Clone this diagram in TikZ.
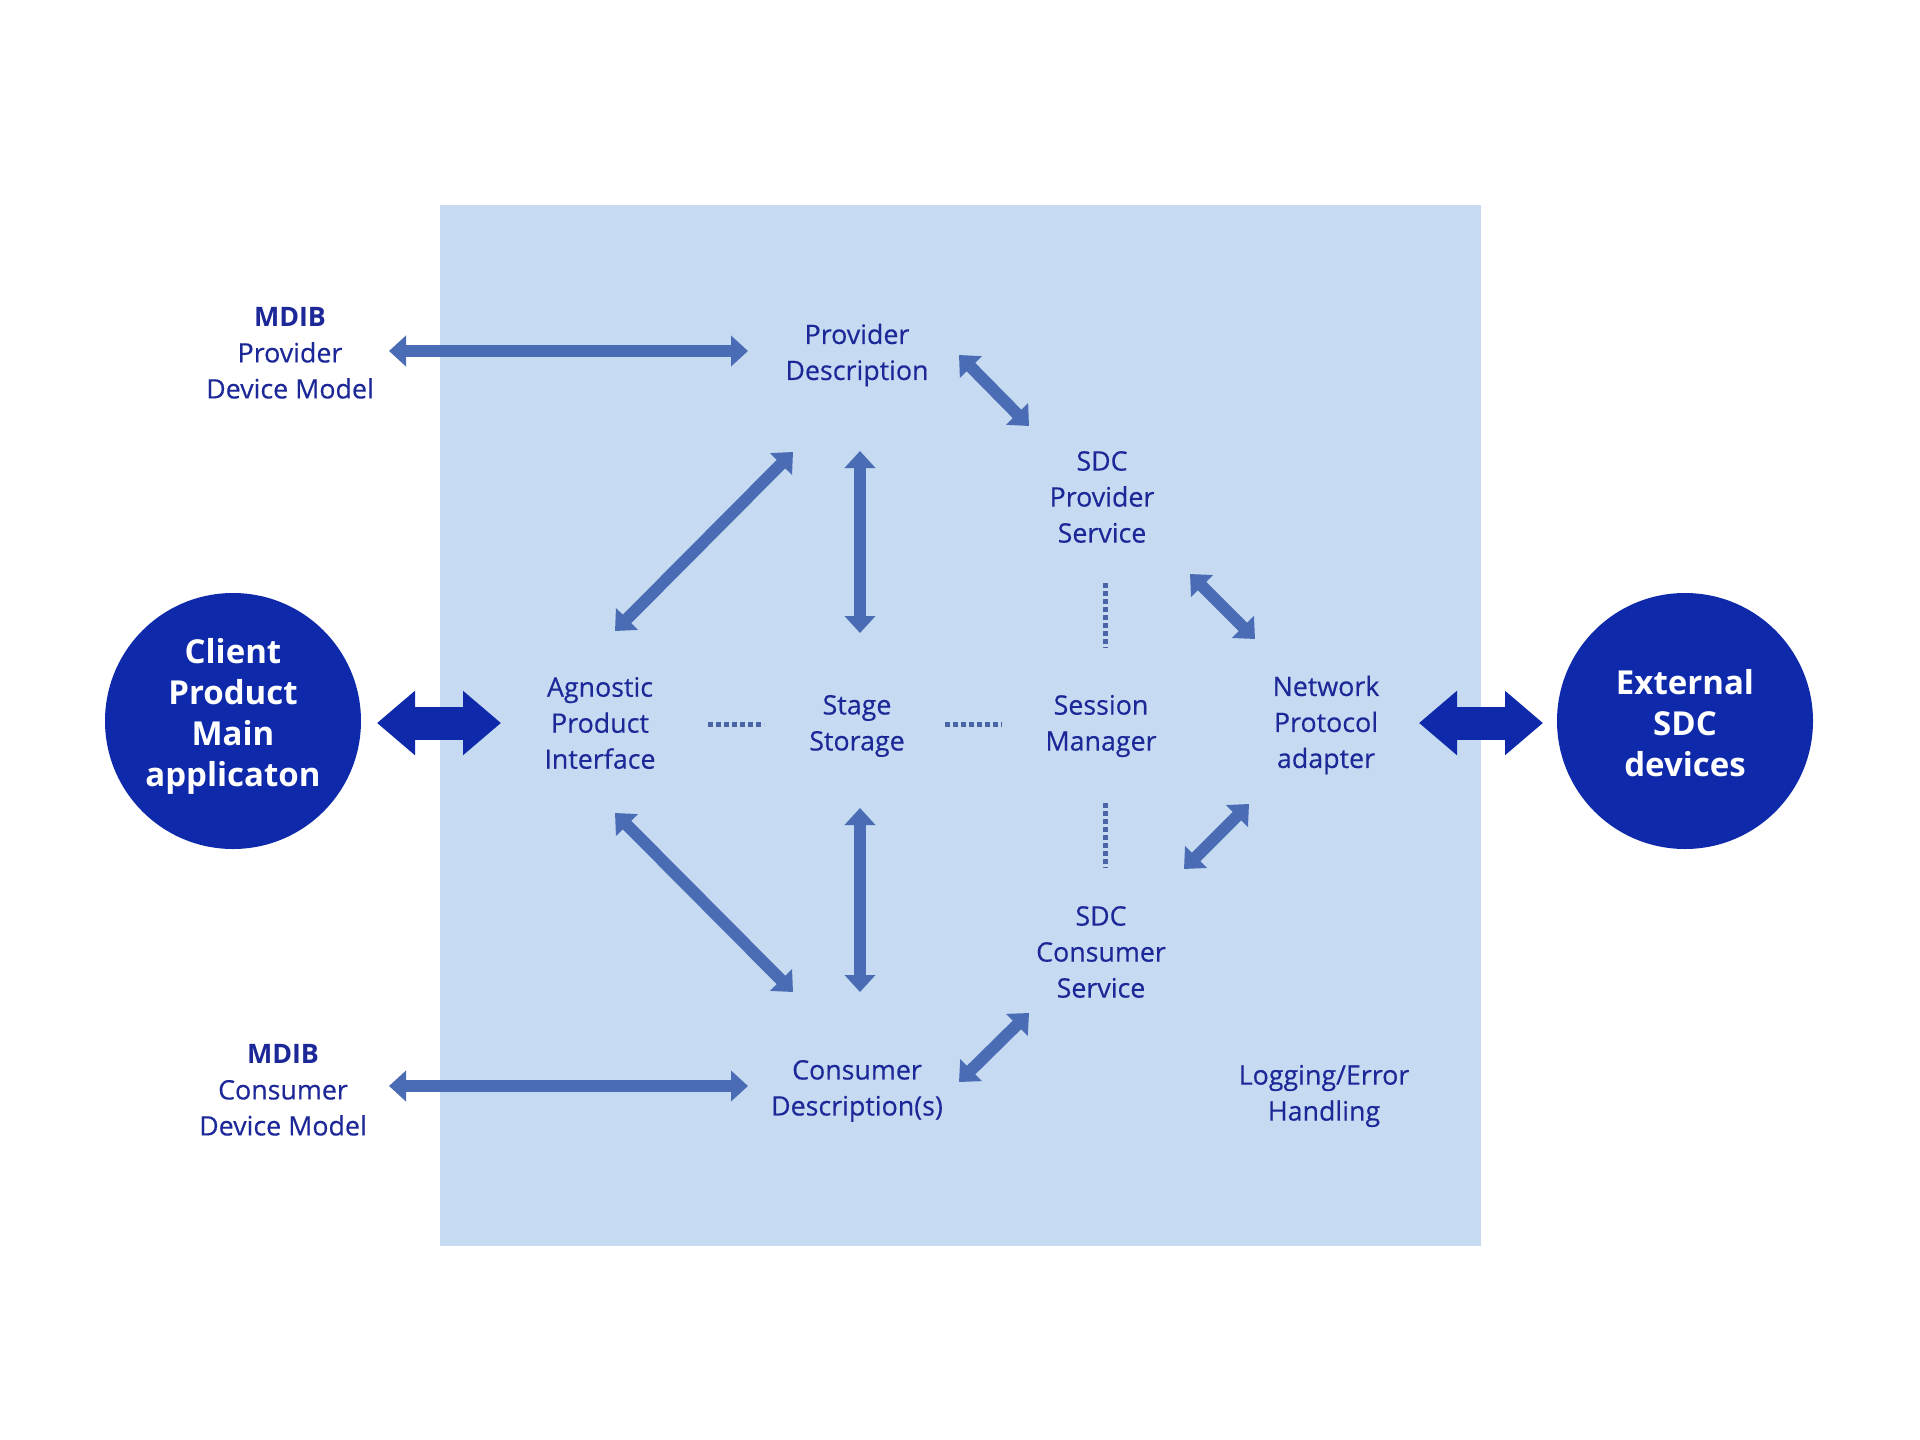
\documentclass[tikz,border=0pt]{standalone}
\usepackage{fontspec}
\setmainfont{Open Sans}
\newfontfamily\lblfont[FakeBold=0.35]{Open Sans}
\newfontfamily\lblbold{Open Sans Bold}
\usetikzlibrary{arrows.meta}
\definecolor{bgc}{RGB}{198,218,241}
\definecolor{txtc}{RGB}{28,40,152}
\definecolor{arrc}{RGB}{74,108,180}
\definecolor{dotc}{RGB}{74,100,168}
\definecolor{circc}{RGB}{14,42,170}
\tikzset{
  lbl/.style={text=txtc, align=center, inner sep=0pt, font=\lblfont\fontsize{26.8}{36}\selectfont},
  circ/.style={circle, fill=circc, minimum size=256pt, inner sep=0pt},
  circtxt/.style={text=white, align=center, inner sep=0pt, font=\fontsize{33}{41}\selectfont\bfseries},
  fatarrow/.style={draw=arrc, line width=12pt, {Triangle[width=30pt,length=17pt]}-{Triangle[width=30pt,length=17pt]}},
  bigarrow/.style={draw=circc, line width=33pt, {Triangle[width=62pt,length=38pt]}-{Triangle[width=62pt,length=38pt]}},
  dotline/.style={draw=dotc, line width=5pt, dash pattern=on 5pt off 3pt}
}
\begin{document}
\begin{tikzpicture}[x=1pt,y=-1pt]
\useasboundingbox (0,0) rectangle (1920,1440);
\fill[white] (0,0) rectangle (1920,1440);
\fill[bgc] (440,205) rectangle (1481,1246);

% circles
\node[circ] (client) at (233,721) {};
\node[circtxt] (clienttxt) at (233,716) {Client\\Product\\Main\\applicaton};
\node[circ] (ext) at (1685,721) {};
\node[circtxt] (exttxt) at (1685,723) {External\\SDC\\devices};

% labels
\node[lbl] (mdibp) at (290,353) {{\lblbold MDIB}\\Provider\\Device Model};
\node[lbl] (pd) at (857,355) {Provider\\Description};
\node[lbl] (sdcps) at (1102,497) {SDC\\Provider\\Service};
\node[lbl] (api) at (600,723) {Agnostic\\Product\\Interface};
\node[lbl] (stage) at (857,726) {Stage\\Storage};
\node[lbl] (sess) at (1101,726) {Session\\Manager};
\node[lbl] (npa) at (1326,725) {Network\\Protocol\\adapter};
\node[lbl] (sdccs) at (1101,952) {SDC\\Consumer\\Service};
\node[lbl] (cd) at (857,1091) {Consumer\\Description(s)};
\node[lbl] (mdibc) at (283,1090) {{\lblbold MDIB}\\Consumer\\Device Model};
\node[lbl] (log) at (1324,1096) {Logging/Error\\Handling};

% arrow end points
\coordinate (a1s) at (389,351);  \coordinate (a1e) at (748,351);
\coordinate (a2s) at (389,1086); \coordinate (a2e) at (748,1086);
\coordinate (a3s) at (959,355);  \coordinate (a3e) at (1029,426);
\coordinate (a4s) at (615,631);  \coordinate (a4e) at (793,452);
\coordinate (a5s) at (860,451);  \coordinate (a5e) at (860,633);
\coordinate (a6s) at (1190,574); \coordinate (a6e) at (1255,639);
\coordinate (a7s) at (615,813);  \coordinate (a7e) at (793,992);
\coordinate (a8s) at (860,808);  \coordinate (a8e) at (860,992);
\coordinate (a9s) at (1249,804); \coordinate (a9e) at (1184,869);
\coordinate (a10s) at (959,1082); \coordinate (a10e) at (1029,1013);
\coordinate (b1s) at (377,723); \coordinate (b1e) at (501,723);
\coordinate (b2s) at (1419,723); \coordinate (b2e) at (1543,723);

\draw[fatarrow] (a1s) -- (a1e);
\draw[fatarrow] (a2s) -- (a2e);
\draw[fatarrow] (a3s) -- (a3e);
\draw[fatarrow] (a4s) -- (a4e);
\draw[fatarrow] (a5s) -- (a5e);
\draw[fatarrow] (a6s) -- (a6e);
\draw[fatarrow] (a7s) -- (a7e);
\draw[fatarrow] (a8s) -- (a8e);
\draw[fatarrow] (a9s) -- (a9e);
\draw[fatarrow] (a10s) -- (a10e);
\draw[bigarrow] (b1s) -- (b1e);
\draw[bigarrow] (b2s) -- (b2e);

% dotted lines
\coordinate (d1s) at (708,724); \coordinate (d1e) at (764,724);
\coordinate (d2s) at (945,724); \coordinate (d2e) at (1002,724);
\coordinate (d3s) at (1105,583); \coordinate (d3e) at (1105,648);
\coordinate (d4s) at (1105,803); \coordinate (d4e) at (1105,868);
\draw[dotline] (d1s) -- (d1e);
\draw[dotline] (d2s) -- (d2e);
\draw[dotline] (d3s) -- (d3e);
\draw[dotline] (d4s) -- (d4e);
\end{tikzpicture}
\end{document}
